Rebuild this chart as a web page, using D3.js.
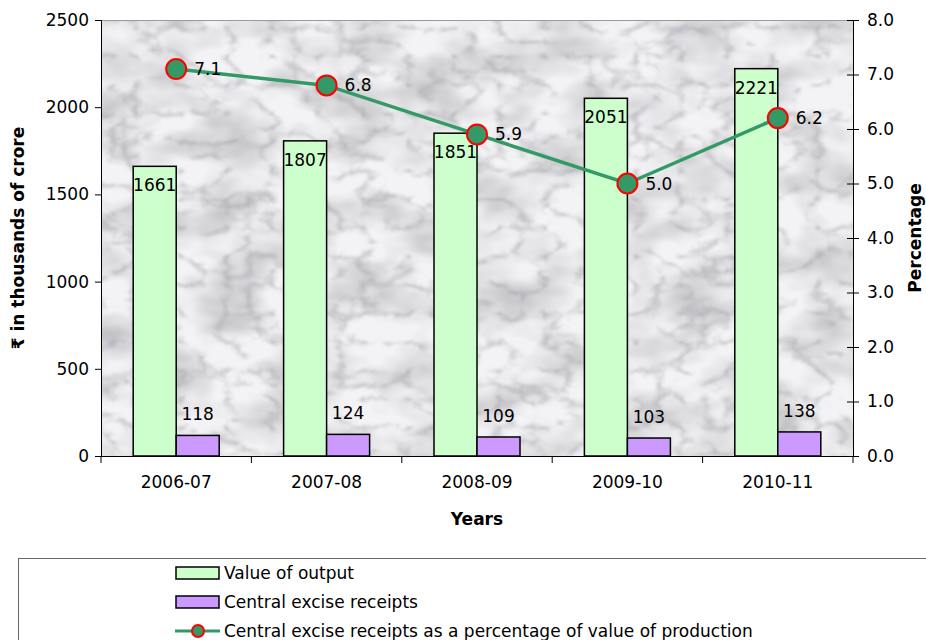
<!DOCTYPE html>
<html><head><meta charset="utf-8">
<script src="https://cdn.jsdelivr.net/npm/d3@7"></script>
<style>body{margin:0;background:#fff;} svg{display:block;font-family:"DejaVu Sans",sans-serif;}</style>
</head><body>
<script>
const categories = ["2006-07","2007-08","2008-09","2009-10","2010-11"];
const valueOfOutput = [1661,1807,1851,2051,2221];
const exciseReceipts = [118,124,109,103,138];
const exciseShare = [7.1,6.8,5.9,5.0,6.2];
const leftTicks = [0,500,1000,1500,2000,2500];
const rightTicks = [0,1,2,3,4,5,6,7,8];
const legendLabels = ["Value of output","Central excise receipts","Central excise receipts as a percentage of value of production"];

const W=926,H=640,FS=17;
const m={l:101,r:853,t:20,b:456};
const svg=d3.select("body").append("svg").attr("width",W).attr("height",H);
const defs=svg.append("defs");
const f=defs.append("filter").attr("id","marble").attr("x",0).attr("y",0).attr("width","100%").attr("height","100%");
f.append("feTurbulence").attr("type","turbulence").attr("baseFrequency","0.022 0.035").attr("numOctaves",4).attr("seed",5).attr("result","n");
f.append("feColorMatrix").attr("in","n").attr("type","matrix")
 .attr("values","0 0 0 0 0  0 0 0 0 0  0 0 0 0 0  -2.2 0 0 0 0.6").attr("result","a");
f.append("feGaussianBlur").attr("in","a").attr("stdDeviation",1.2).attr("result","ab");
f.append("feComposite").attr("in","SourceGraphic").attr("in2","ab").attr("operator","in").attr("result","dark");
f.append("feTurbulence").attr("type","fractalNoise").attr("baseFrequency","0.015 0.025").attr("numOctaves",3).attr("seed",9).attr("result","n2");
f.append("feColorMatrix").attr("in","n2").attr("type","matrix")
 .attr("values","0 0 0 0 0  0 0 0 0 0  0 0 0 0 0  1.2 0 0 0 -0.45").attr("result","a2");
f.append("feComposite").attr("in","SourceGraphic").attr("in2","a2").attr("operator","in").attr("result","cloud");
f.append("feFlood").attr("flood-color","#f3f3f5").attr("result","bg");
f.append("feMerge").selectAll("feMergeNode").data(["bg","cloud","dark"]).join("feMergeNode").attr("in",d=>d);

const x=d3.scaleBand().domain(categories).range([m.l,m.r]);
const yL=d3.scaleLinear().domain([0,2500]).range([m.b,m.t]);
const yR=d3.scaleLinear().domain([0,8]).range([m.b,m.t]);

svg.append("rect").attr("x",m.l).attr("y",m.t).attr("width",m.r-m.l).attr("height",m.b-m.t)
 .attr("fill","#96969c").attr("filter","url(#marble)");
svg.append("line").attr("x1",m.l).attr("x2",m.r).attr("y1",m.t+0.5).attr("y2",m.t+0.5).attr("stroke","#9a9a9a");

const bw=43;
const g=svg.append("g");
g.selectAll(".b1").data(valueOfOutput).join("rect")
 .attr("x",(d,i)=>x(categories[i])+x.bandwidth()/2-bw).attr("y",d=>yL(d)).attr("width",bw).attr("height",d=>m.b-yL(d))
 .attr("fill","#ccffcc").attr("stroke","#000").attr("stroke-width",1.5);
g.selectAll(".b2").data(exciseReceipts).join("rect")
 .attr("x",(d,i)=>x(categories[i])+x.bandwidth()/2).attr("y",d=>yL(d)).attr("width",bw).attr("height",d=>m.b-yL(d))
 .attr("fill","#cc99ff").attr("stroke","#000").attr("stroke-width",1.5);
g.selectAll(".t1").data(valueOfOutput).join("text")
 .attr("x",(d,i)=>x(categories[i])+x.bandwidth()/2-bw/2).attr("y",d=>yL(d)+25).attr("text-anchor","middle")
 .attr("font-size",FS).text(d=>d);
g.selectAll(".t2").data(exciseReceipts).join("text")
 .attr("x",(d,i)=>x(categories[i])+x.bandwidth()/2+bw/2).attr("y",d=>yL(d)-15).attr("text-anchor","middle")
 .attr("font-size",FS).text(d=>d);

const cx=(d,i)=>x(categories[i])+x.bandwidth()/2;
g.append("path").datum(exciseShare).attr("d",d3.line().x(cx).y(d=>yR(d)))
 .attr("fill","none").attr("stroke","#339966").attr("stroke-width",3.5);
g.selectAll(".pt").data(exciseShare).join("circle").attr("cx",cx).attr("cy",d=>yR(d)).attr("r",10)
 .attr("fill","#339966").attr("stroke","#ff0000").attr("stroke-width",2);
g.selectAll(".pl").data(exciseShare).join("text").attr("x",(d,i)=>cx(d,i)+18).attr("y",d=>yR(d)+6)
 .attr("font-size",FS).text(d=>d.toFixed(1));

const axL=svg.append("g").attr("transform",`translate(${m.l},0)`).call(d3.axisLeft(yL).tickValues(leftTicks).tickSize(6).tickPadding(6).tickFormat(d3.format("d")));
const axR=svg.append("g").attr("transform",`translate(${m.r},0)`).call(d3.axisRight(yR).tickValues(rightTicks).tickSize(6).tickPadding(8).tickFormat(d3.format(".1f")));
const axB=svg.append("g").attr("transform",`translate(0,${m.b})`).call(d3.axisBottom(x).tickSize(0).tickPadding(20));
[axL,axR,axB].forEach(a=>{a.selectAll("text").attr("font-size",FS).attr("fill","#000").attr("font-family","'DejaVu Sans',sans-serif");a.select(".domain").attr("stroke","#000");a.selectAll(".tick line").attr("stroke","#000");});
axR.selectAll(".tick line").attr("x1",-6);
svg.append("g").selectAll("line").data(d3.range(categories.length+1)).join("line")
 .attr("x1",i=>m.l+i*x.step()).attr("x2",i=>m.l+i*x.step()).attr("y1",m.b).attr("y2",m.b+7).attr("stroke","#000");

svg.append("text").attr("transform",`translate(24,238) rotate(-90)`).attr("text-anchor","middle").attr("font-size",FS).attr("font-weight","bold").text("₹ in thousands of crore");
svg.append("text").attr("transform",`translate(921,238) rotate(-90)`).attr("text-anchor","middle").attr("font-size",FS).attr("font-weight","bold").text("Percentage");
svg.append("text").attr("x",477).attr("y",525).attr("text-anchor","middle").attr("font-size",FS).attr("font-weight","bold").text("Years");

svg.append("rect").attr("x",18.5).attr("y",558.5).attr("width",920).attr("height",100).attr("fill","#fff").attr("stroke","#666");
const lg=svg.append("g");
const rows=[573,602,631];
lg.append("rect").attr("x",176).attr("y",rows[0]-6).attr("width",43).attr("height",12).attr("fill","#ccffcc").attr("stroke","#000").attr("stroke-width",1.5);
lg.append("rect").attr("x",176).attr("y",rows[1]-6).attr("width",43).attr("height",12).attr("fill","#cc99ff").attr("stroke","#000").attr("stroke-width",1.5);
lg.append("line").attr("x1",175).attr("x2",220).attr("y1",rows[2]).attr("y2",rows[2]).attr("stroke","#339966").attr("stroke-width",3);
lg.append("circle").attr("cx",198).attr("cy",rows[2]).attr("r",6).attr("fill","#339966").attr("stroke","#ff0000").attr("stroke-width",2);
lg.selectAll("text").data(legendLabels).join("text").attr("x",224).attr("y",(d,i)=>rows[i]+6).attr("font-size",FS).text(d=>d);
</script>
</body></html>
